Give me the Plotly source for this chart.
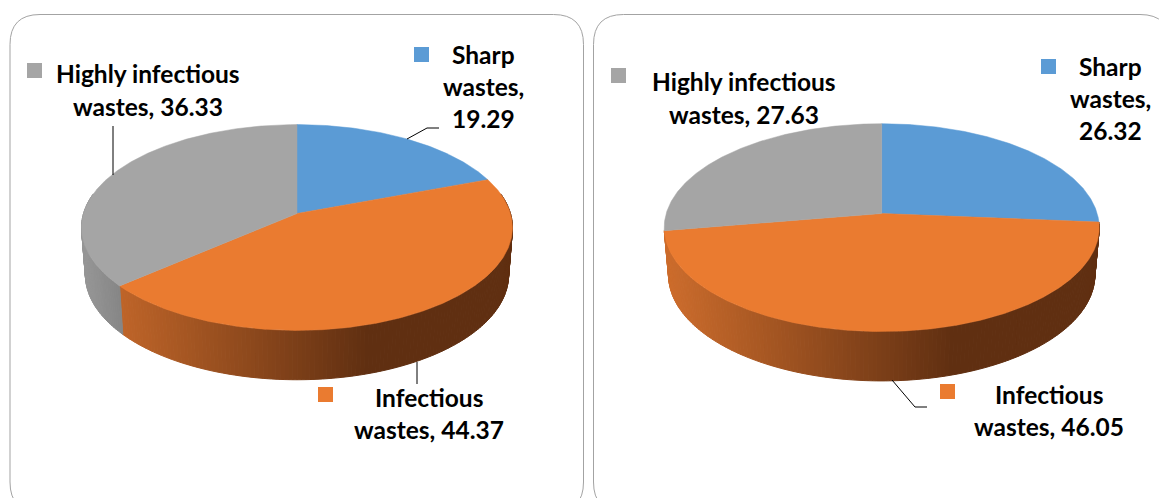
import math
import plotly.graph_objects as go

# ---- data ----
categories = ["Sharp wastes", "Infectious wastes", "Highly infectious wastes"]
values_left = [19.29, 44.37, 36.33]
values_right = [26.32, 46.05, 27.63]
slice_colors = ["#5B9BD5", "#EA7B30", "#A5A5A5"]
line_breaks_left = [["Sharp", "wastes,", "{v}"], ["Infectious", "wastes, {v}"], ["Highly infectious", "wastes, {v}"]]
line_breaks_right = [["Sharp", "wastes,", "{v}"], ["Infectious", "wastes, {v}"], ["Highly infectious", "wastes, {v}"]]

# ---- layout / style ----
W, H = 1159, 498
FONT = dict(family="Lato, Carlito, sans-serif", size=24.5, color="#000000")
K = 0.136  # perspective factor of the tilted disc

left_pie = dict(cx=297, cy=213.5, rx=213.5, ry=101, dy=47, sy=1.02, sx=0.982)
right_pie = dict(cx=881.7, cy=213.5, rx=215.5, ry=102, dy=47, sy=1.02, sx=0.98)


def project(p, theta, bottom=False):
    u, v = math.sin(theta), math.cos(theta)
    w = 1 + K * v
    X = p["rx"] * u / w
    Y = p["ry"] * v / w
    if bottom:
        return p["cx"] + p["sx"] * X, p["cy"] + p["dy"] - p["sy"] * Y
    return p["cx"] + X, p["cy"] - Y


def lerp(a, b, t):
    t = max(0.0, min(1.0, t))
    return tuple(round(x + (y - x) * t) for x, y in zip(a, b))


def side_color(p, idx, x):
    t = (x - (p["cx"] - p["rx"])) / (1.33 * p["rx"])
    if idx == 1:
        c = lerp((204, 108, 44), (96, 47, 17), t)
    elif idx == 2:
        c = lerp((150, 150, 150), (128, 128, 128), t * 6)
    else:
        c = lerp((70, 115, 160), (50, 85, 120), t)
    return "rgb(%d,%d,%d)" % c


fig = go.Figure()


def visible_arc(a0, a1):
    """Degrees of the slice's rim that lie on the front of the disc."""
    n = 200
    return sum(1 for j in range(n) if math.cos(a0 + (a1 - a0) * (j + 0.5) / n) < 0.06) / n * math.degrees(a1 - a0)


def draw_pie(p, values):
    total = sum(values)
    edges = [0.0]
    for v in values:
        edges.append(edges[-1] + v / total * 2 * math.pi)
    # side wall: front half only, thin bands coloured by horizontal position
    for i, c in enumerate(slice_colors):
        a0, a1 = edges[i], edges[i + 1]
        if visible_arc(a0, a1) < 15:
            continue
        n = max(2, int((a1 - a0) / math.radians(1.0)))
        for j in range(n):
            t0 = a0 + (a1 - a0) * j / n
            t1 = a0 + (a1 - a0) * (j + 1) / n
            tm = (t0 + t1) / 2
            if math.cos(tm) > 0.2:
                continue
            pts = [project(p, t0), project(p, t1), project(p, t1, True), project(p, t0, True)]
            col = side_color(p, i, project(p, tm)[0])
            fig.add_trace(go.Scatter(
                x=[q[0] for q in pts] + [pts[0][0]],
                y=[q[1] for q in pts] + [pts[0][1]],
                mode="lines", fill="toself", fillcolor=col,
                line=dict(color=col, width=1), hoverinfo="skip", showlegend=False))
    # top face
    for i, c in enumerate(slice_colors):
        a0, a1 = edges[i], edges[i + 1]
        n = max(4, int((a1 - a0) / math.radians(0.5)))
        pts = [(p["cx"], p["cy"])] + [project(p, a0 + (a1 - a0) * j / n) for j in range(n + 1)]
        pts.append(pts[0])
        fig.add_trace(go.Scatter(
            x=[q[0] for q in pts], y=[q[1] for q in pts],
            mode="lines", fill="toself", fillcolor=c,
            line=dict(color=c, width=0.5), hoverinfo="skip",
            name=categories[i], showlegend=False))


draw_pie(left_pie, values_left)
draw_pie(right_pie, values_right)


def panel(x0, y0, x1, y1, r):
    return dict(
        type="path", xref="x", yref="y",
        path=(f"M {x0+r},{y0} L {x1-r},{y0} Q {x1},{y0} {x1},{y0+r} L {x1},{y1-r} "
              f"Q {x1},{y1} {x1-r},{y1} L {x0+r},{y1} Q {x0},{y1} {x0},{y1-r} "
              f"L {x0},{y0+r} Q {x0},{y0} {x0+r},{y0} Z"),
        line=dict(color="#A3A3A3", width=1), fillcolor="rgba(0,0,0,0)", layer="below")


shapes = [panel(10, 14.5, 583.5, 512, 30), panel(593.5, 14.5, 1170, 512, 30)]

# legend keys: (x0, y0) of each 15 px square, same order as the categories
key_left = [(414, 47), (318, 387), (27, 63)]
key_right = [(1041, 59), (940, 384), (611, 68)]
for keys in (key_left, key_right):
    for (x, y), c in zip(keys, slice_colors):
        shapes.append(dict(type="rect", xref="x", yref="y", x0=x, y0=y, x1=x + 15, y1=y + 15,
                           fillcolor=c, line=dict(width=0)))

# leader lines
leaders = [
    [(407, 139), (427, 128), (439, 128)],
    [(113, 126), (113, 175)],
    [(417, 362), (417, 384)],
    [(892, 380), (915, 407), (927, 407)],
]
for pts in leaders:
    fig.add_trace(go.Scatter(x=[q[0] for q in pts], y=[q[1] for q in pts], mode="lines",
                             line=dict(color="#000000", width=1), hoverinfo="skip", showlegend=False))

# text positions: centre x and first-line y for each label; line step in px
text_left = [(483, 54.5, 32), (429, 397.5, 32), (148, 73.5, 33)]
text_right = [(1110.5, 66.5, 32), (1049, 394.5, 32), (743.5, 81.5, 33)]
annotations = []
for values, breaks, places in ((values_left, line_breaks_left, text_left),
                               (values_right, line_breaks_right, text_right)):
    for v, lines, (x, y, step) in zip(values, breaks, places):
        for k, ln in enumerate(lines):
            annotations.append(dict(
                x=x, y=y + k * step, xref="x", yref="y", showarrow=False,
                xanchor="center", yanchor="middle",
                text="<b>" + ln.format(v=f"{v:.2f}") + "</b>", font=FONT))

fig.update_layout(
    width=W, height=H, autosize=False,
    margin=dict(l=0, r=0, t=0, b=0),
    paper_bgcolor="#FFFFFF", plot_bgcolor="#FFFFFF",
    xaxis=dict(range=[0, W], visible=False, fixedrange=True),
    yaxis=dict(range=[H, 0], visible=False, fixedrange=True),
    shapes=shapes, annotations=annotations, showlegend=False,
)
fig.write_html("out.html", config=dict(displayModeBar=False),
               post_script="document.body.style.margin='0';document.body.style.overflow='hidden';")
